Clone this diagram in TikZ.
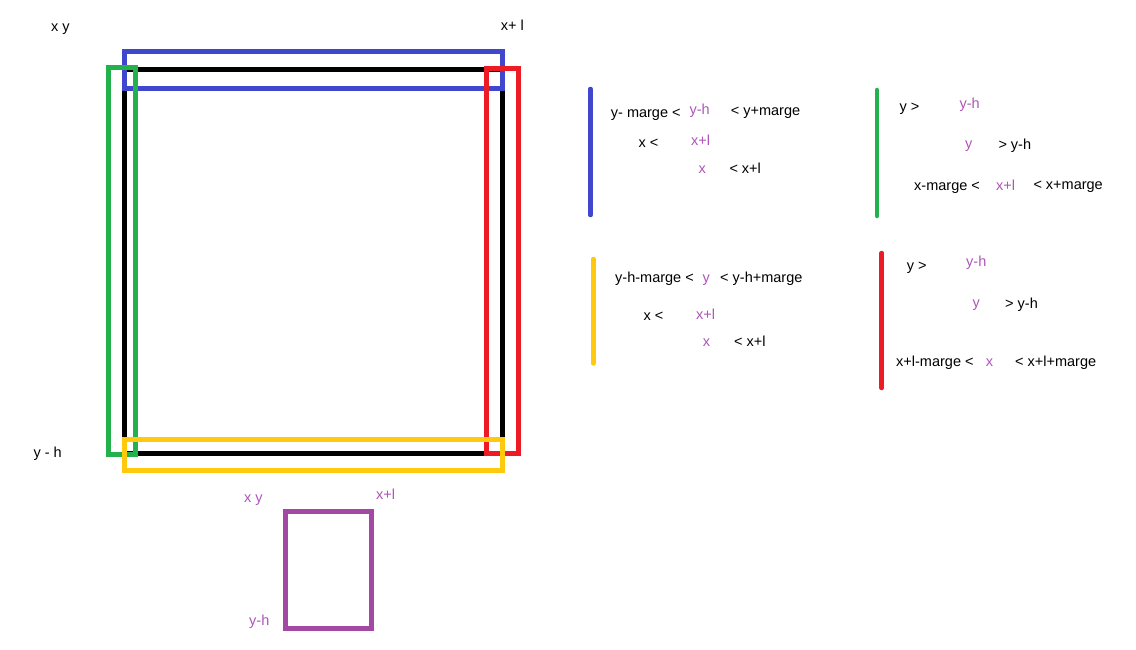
\documentclass[tikz,border=0pt]{standalone}
\usepackage{fontspec}
\setmainfont{Liberation Sans}
\definecolor{cblue}{RGB}{63,72,204}
\definecolor{cgreen}{RGB}{34,177,76}
\definecolor{cred}{RGB}{237,28,36}
\definecolor{cyellow}{RGB}{255,201,14}
\definecolor{cpurple}{RGB}{163,73,164}
\definecolor{tpurple}{RGB}{175,85,185}
\begin{document}
\begin{tikzpicture}[x=1pt,y=-1pt,
  box/.style={line width=5pt},
  bar/.style={line width=4.5pt,line cap=round},
  lbl/.style={inner sep=0pt,anchor=base west,font=\fontsize{14.5}{17}\selectfont,text=black},
  pl/.style={lbl,text=tpurple}]
\useasboundingbox[fill=white] (0,0) rectangle (1136,650);
% frames
\draw[box,black] (124.5,69.5) rectangle (502.5,453.5);
\draw[box,cblue] (124.5,51.5) rectangle (502.5,89);
\draw[box,cgreen] (108.5,67.5) rectangle (135.5,454.5);
\draw[box,cred] (486.5,69) rectangle (518,453.5);
\draw[box,cyellow] (124.5,439.5) rectangle (502.5,470);
\draw[box,cpurple] (285,511.5) rectangle (371,628);
% corner labels
\node[lbl] (xy) at (51,31.7) {x y};
\node[lbl] (xl) at (500.7,30.7) {x+ l};
\node[lbl] (yh) at (33.3,457.3) {y - h};
\node[pl] (pxy) at (244,502.7) {x y};
\node[pl] (pxl) at (376,499) {x+l};
\node[pl] (pyh) at (249,625.7) {y-h};
% bars
\draw[bar,cblue] (590.5,89) -- (590.5,215);
\draw[bar,cgreen] (877,90) -- (877,216);
\draw[bar,cyellow] (593.3,259) -- (593.3,363.5);
\draw[bar,cred] (881.7,253) -- (881.7,388);
% blue block
\node[lbl] (b1) at (610.7,117.5) {y- marge <};
\node[pl] (b2) at (689.3,114.3) {y-h};
\node[lbl] (b3) at (730.7,116) {< y+marge};
\node[lbl] (b4) at (638.3,147.7) {x <};
\node[pl] (b5) at (691,146) {x+l};
\node[pl] (b6) at (698.3,173.3) {x};
\node[lbl] (b7) at (729.3,173.3) {< x+l};
% green block
\node[lbl] (g1) at (899.3,111.7) {y >};
\node[pl] (g2) at (959.3,108.3) {y-h};
\node[pl] (g3) at (965,148.3) {y};
\node[lbl] (g4) at (998.3,150) {> y-h};
\node[lbl] (g5) at (914,191) {x-marge <};
\node[pl] (g6) at (996,190) {x+l};
\node[lbl] (g7) at (1033.3,189.3) {< x+marge};
% yellow block
\node[lbl] (y1) at (615,282.7) {y-h-marge <};
\node[pl] (y2) at (702.3,282.7) {y};
\node[lbl] (y3) at (720,282.7) {< y-h+marge};
\node[lbl] (y4) at (643.3,320) {x <};
\node[pl] (y5) at (696,319) {x+l};
\node[pl] (y6) at (702.7,346) {x};
\node[lbl] (y7) at (734,346) {< x+l};
% red block
\node[lbl] (r1) at (906.7,270.7) {y >};
\node[pl] (r2) at (966,266) {y-h};
\node[pl] (r3) at (972.3,307.3) {y};
\node[lbl] (r4) at (1005,308.3) {> y-h};
\node[lbl] (r5) at (896,366.7) {x+l-marge <};
\node[pl] (r6) at (985.7,366) {x};
\node[lbl] (r7) at (1015,366) {< x+l+marge};
\end{tikzpicture}
\end{document}
